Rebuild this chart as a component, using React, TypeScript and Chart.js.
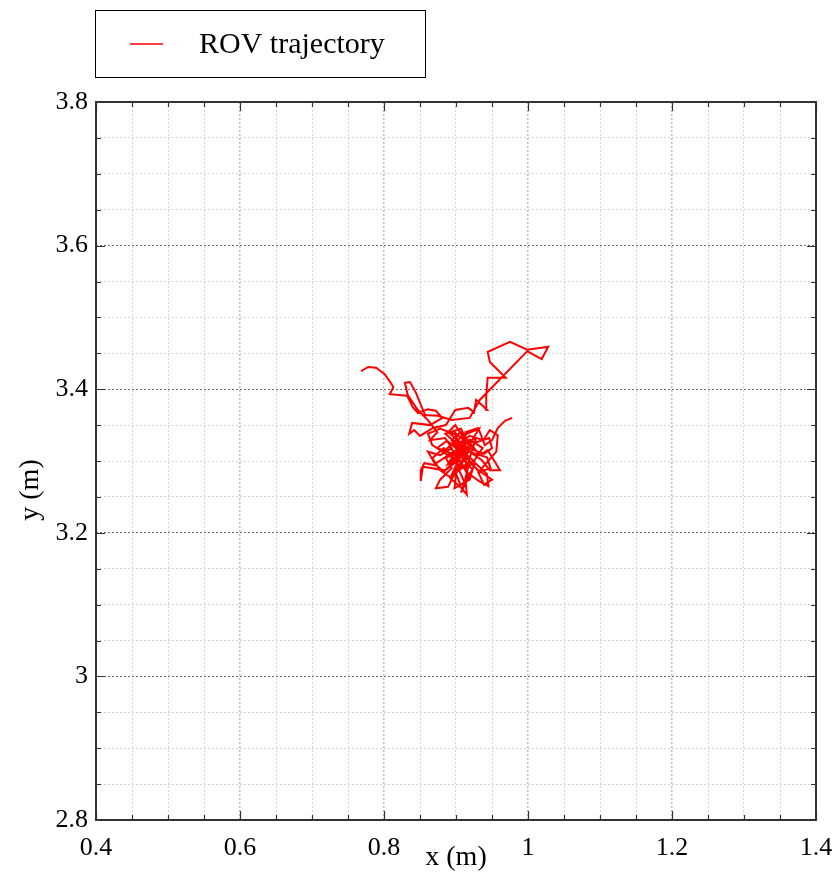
import React, { useEffect, useRef } from "react";
import { Chart, registerables } from "chart.js";

Chart.register(...registerables);

const seriesName = "ROV trajectory";
const xTitle = "x (m)";
const yTitle = "y (m)";
const xMin = 0.4, xMax = 1.4, yMin = 2.8, yMax = 3.8;
const minorStep = 0.05;

const trajX = [
  0.768, 0.778, 0.789, 0.801, 0.808, 0.813, 0.808, 0.832, 0.840, 0.847,
  0.861, 0.872, 0.881, 0.864, 0.839, 0.835, 0.842, 0.850, 0.868, 0.886,
  0.899, 0.917, 0.925, 0.928, 0.936, 0.943, 0.942, 0.944, 0.969, 0.947,
  0.944, 0.975, 0.999, 1.028, 1.019, 0.999, 0.933, 0.919, 0.894, 0.875,
  0.857, 0.844, 0.836, 0.829, 0.833, 0.847, 0.861, 0.874, 0.864, 0.885,
  0.894, 0.878, 0.861, 0.872, 0.856, 0.851, 0.851, 0.854, 0.885, 0.903,
  0.892, 0.908, 0.915, 0.913, 0.919, 0.931, 0.950, 0.939, 0.931, 0.944,
  0.956, 0.958, 0.947, 0.938, 0.919, 0.906, 0.889, 0.899, 0.913, 0.903,
  0.886, 0.894, 0.878, 0.872, 0.889, 0.899, 0.906, 0.919, 0.926, 0.908,
  0.894, 0.906, 0.922, 0.933, 0.944, 0.954, 0.961, 0.947, 0.936, 0.919,
  0.900, 0.883, 0.867, 0.878, 0.894, 0.903, 0.914, 0.903,
  0.892, 0.914, 0.901, 0.882, 0.907, 0.921, 0.898, 0.910, 0.889, 0.905,
  0.928, 0.916, 0.896, 0.909, 0.887, 0.874, 0.900, 0.919, 0.937, 0.925,
  0.903, 0.912, 0.907, 0.918, 0.903, 0.891, 0.909, 0.932, 0.918, 0.898,
  0.883, 0.871, 0.892, 0.914, 0.905, 0.921, 0.943, 0.948, 0.932, 0.919,
  0.900, 0.885, 0.907, 0.914, 0.900, 0.910, 0.923, 0.909, 0.898, 0.901,
  0.916, 0.905, 0.889, 0.867, 0.861, 0.878, 0.901, 0.925, 0.946, 0.950,
  0.939, 0.918, 0.903, 0.894, 0.910, 0.928, 0.943, 0.945, 0.932, 0.914,
  0.913, 0.931, 0.940, 0.950, 0.958, 0.968, 0.978,
];
const trajY = [
  3.425, 3.431, 3.430, 3.421, 3.411, 3.403, 3.393, 3.391, 3.375, 3.367,
  3.372, 3.370, 3.360, 3.350, 3.353, 3.338, 3.343, 3.335, 3.346, 3.350,
  3.371, 3.374, 3.368, 3.385, 3.378, 3.371, 3.392, 3.416, 3.416, 3.438,
  3.452, 3.466, 3.455, 3.459, 3.442, 3.453, 3.385, 3.360, 3.357, 3.363,
  3.364, 3.396, 3.410, 3.409, 3.392, 3.371, 3.357, 3.340, 3.329, 3.332,
  3.318, 3.308, 3.313, 3.294, 3.297, 3.287, 3.272, 3.292, 3.287, 3.301,
  3.276, 3.262, 3.253, 3.276, 3.299, 3.287, 3.274, 3.267, 3.284, 3.299,
  3.313, 3.336, 3.343, 3.329, 3.335, 3.326, 3.340, 3.350, 3.329, 3.313,
  3.304, 3.290, 3.274, 3.262, 3.264, 3.285, 3.267, 3.274, 3.299, 3.315,
  3.329, 3.340, 3.322, 3.308, 3.315, 3.299, 3.287, 3.287, 3.301, 3.313,
  3.301, 3.318, 3.304, 3.287, 3.276, 3.287, 3.308, 3.322,
  3.325, 3.305, 3.330, 3.312, 3.298, 3.320, 3.340, 3.310, 3.296, 3.322,
  3.332, 3.295, 3.282, 3.315, 3.328, 3.318, 3.308, 3.330, 3.318, 3.300,
  3.290, 3.270, 3.256, 3.278, 3.305, 3.320, 3.335, 3.345, 3.322, 3.300,
  3.285, 3.296, 3.310, 3.318, 3.327, 3.312, 3.305, 3.290, 3.285, 3.300,
  3.325, 3.338, 3.345, 3.330, 3.315, 3.302, 3.288, 3.268, 3.262, 3.290,
  3.308, 3.318, 3.308, 3.322, 3.338, 3.345, 3.336, 3.325, 3.332, 3.318,
  3.310, 3.318, 3.310, 3.300, 3.292, 3.296, 3.282, 3.265, 3.272, 3.285,
  3.340, 3.346, 3.322, 3.329, 3.346, 3.356, 3.360,
];

const FONT = "'Liberation Serif', 'Times New Roman', serif";

const isMajor = (v: number) => Math.abs(v * 5 - Math.round(v * 5)) < 1e-6;
const fmt = (v: number) => (isMajor(v) ? String(Number(v.toFixed(2))) : "");

const decorPlugin = {
  id: "decor",
  afterDraw(chart: any) {
    const { ctx, chartArea: a, scales } = chart;
    const xs = scales.x, ys = scales.y;
    ctx.save();
    // inward tick marks
    ctx.strokeStyle = "#333";
    ctx.lineWidth = 1.2;
    ctx.beginPath();
    xs.ticks.forEach((t: any) => {
      const px = Math.round(xs.getPixelForValue(t.value)) + 0.5;
      const len = isMajor(t.value) ? 9 : 5;
      ctx.moveTo(px, a.bottom); ctx.lineTo(px, a.bottom - len);
      ctx.moveTo(px, a.top); ctx.lineTo(px, a.top + len);
    });
    ys.ticks.forEach((t: any) => {
      const py = Math.round(ys.getPixelForValue(t.value)) + 0.5;
      const len = isMajor(t.value) ? 9 : 5;
      ctx.moveTo(a.left, py); ctx.lineTo(a.left + len, py);
      ctx.moveTo(a.right, py); ctx.lineTo(a.right - len, py);
    });
    ctx.stroke();
    // frame
    ctx.lineWidth = 2;
    ctx.strokeStyle = "#333";
    ctx.strokeRect(a.left, a.top, a.right - a.left, a.bottom - a.top);
    // axis titles
    ctx.fillStyle = "#000";
    ctx.font = `28px ${FONT}`;
    ctx.textAlign = "center";
    ctx.textBaseline = "middle";
    ctx.fillText(xTitle, (a.left + a.right) / 2, 858);
    ctx.save();
    ctx.translate(31, 490);
    ctx.rotate(-Math.PI / 2);
    ctx.fillText(yTitle, 0, 0);
    ctx.restore();
    // legend
    ctx.lineWidth = 1;
    ctx.strokeStyle = "#000";
    ctx.strokeRect(95.5, 10.5, 330, 67);
    ctx.strokeStyle = "#ff0000";
    ctx.lineWidth = 1.5;
    ctx.beginPath();
    ctx.moveTo(130, 44); ctx.lineTo(163, 44);
    ctx.stroke();
    ctx.font = `30px ${FONT}`;
    ctx.textAlign = "left";
    ctx.textBaseline = "alphabetic";
    ctx.fillStyle = "#000";
    ctx.fillText(seriesName, 199, 53);
    ctx.restore();
  },
};

export default function App() {
  const ref = useRef<HTMLCanvasElement | null>(null);
  useEffect(() => {
    if (!ref.current) return;
    const points = trajX.map((x, i) => ({ x, y: trajY[i] }));
    const gridColor = (ctx: any, vertical: boolean) => {
      const v = ctx.tick ? ctx.tick.value : 0;
      if (isMajor(v)) return vertical ? "#bdbdbd" : "#6a6a6a";
      return "#d6d6d6";
    };
    const chart = new Chart(ref.current, {
      type: "scatter",
      data: {
        datasets: [
          {
            label: seriesName,
            data: points,
            showLine: true,
            borderColor: "#ff0000",
            backgroundColor: "#ff0000",
            borderWidth: 2,
            pointRadius: 0,
            tension: 0,
          },
        ],
      },
      plugins: [decorPlugin],
      options: {
        animation: false,
        responsive: false,
        maintainAspectRatio: false,
        layout: { padding: { top: 102, right: 19, left: 0, bottom: 0 } },
        plugins: { legend: { display: false }, tooltip: { enabled: false } },
        scales: {
          x: {
            type: "linear",
            min: xMin,
            max: xMax,
            afterFit: (s: any) => { s.height = 58; s.paddingLeft = 0; s.paddingRight = 0; },
            border: { display: false, dash: [2, 2] },
            grid: {
              drawTicks: false,
              color: (c: any) => gridColor(c, true),
              lineWidth: (c: any) => (c.tick && isMajor(c.tick.value) ? 1.5 : 1),
            },
            ticks: {
              stepSize: minorStep,
              autoSkip: false,
              maxRotation: 0,
              padding: 13,
              color: "#000",
              font: { family: FONT, size: 26 },
              callback: (v: any) => fmt(Number(v)),
            },
          },
          y: {
            type: "linear",
            min: yMin,
            max: yMax,
            afterFit: (s: any) => { s.width = 96; s.paddingTop = 0; s.paddingBottom = 0; },
            border: { display: false, dash: [2, 2] },
            grid: {
              drawTicks: false,
              color: (c: any) => gridColor(c, false),
              lineWidth: 1,
            },
            ticks: {
              stepSize: minorStep,
              autoSkip: false,
              padding: 8,
              color: "#000",
              font: { family: FONT, size: 26 },
              callback: (v: any) => fmt(Number(v)),
            },
          },
        },
      },
    });
    return () => chart.destroy();
  }, []);
  return (
    <div style={{ position: "absolute", left: 0, top: 0, width: 835, height: 878, background: "#fff" }}>
      <canvas ref={ref} width={835} height={878} style={{ display: "block", width: 835, height: 878 }} />
    </div>
  );
}
